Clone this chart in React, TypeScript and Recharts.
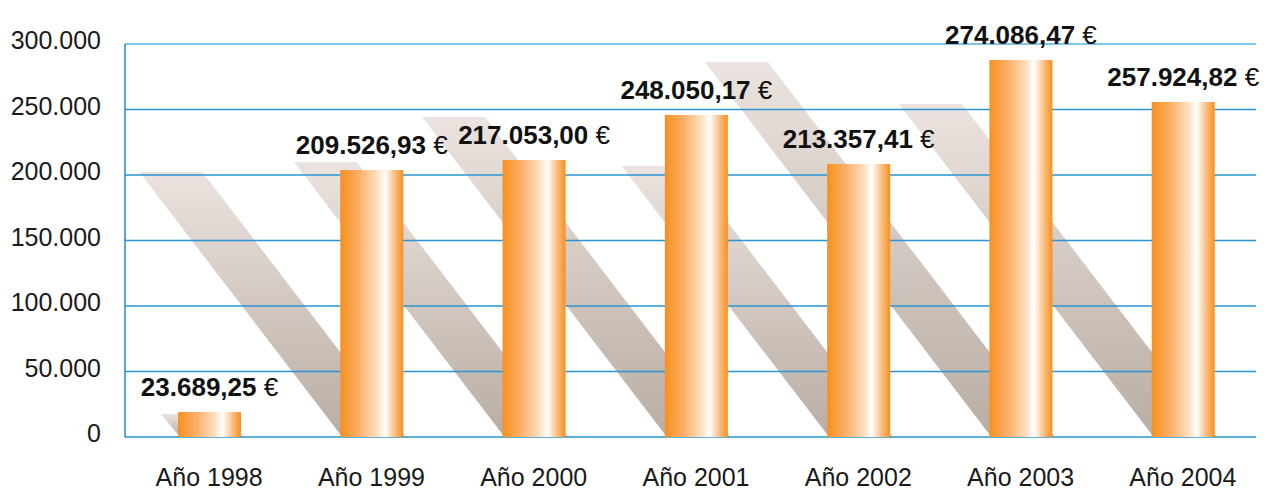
import { BarChart, Bar, XAxis, YAxis, ReferenceLine, LabelList } from "recharts";

const years = ["Año 1998", "Año 1999", "Año 2000", "Año 2001", "Año 2002", "Año 2003", "Año 2004"];
// bar heights as drawn in the picture
const amounts = [19100, 203800, 211500, 245800, 208400, 287800, 255700];
// printed labels
const amountLabels = [
  "23.689,25",
  "209.526,93",
  "217.053,00",
  "248.050,17",
  "213.357,41",
  "274.086,47",
  "257.924,82",
];
const yTicks = [0, 50000, 100000, 150000, 200000, 250000, 300000];

const data = years.map((year, i) => ({ year, amount: amounts[i], label: amountLabels[i] }));

const W = 1268;
const H = 490;
const FONT = '"Liberation Sans", Arial, sans-serif';
const plotMargin = { top: 44, right: 4, bottom: 53, left: 128 };

function ShadowShape({ x, y, width, height }: any) {
  const shift = height * 0.76;
  const top = y + 2;
  const pts = [
    [x + 2, y + height],
    [x + width + 2, y + height],
    [x + width + 2 - shift, top],
    [x + 2 - shift, top],
  ]
    .map((p) => p.join(","))
    .join(" ");
  return <polygon points={pts} fill="url(#shadowGrad)" />;
}

function YTick({ x, y, payload }: any) {
  const s = Number(payload.value).toLocaleString("de-DE");
  return (
    <text x={x} y={y - 3.5} dy="0.355em" textAnchor="end" fontSize={25} fill="#1a1a1a" fontFamily={FONT}>
      {s}
    </text>
  );
}

function XTick({ x, y, payload }: any) {
  return (
    <text x={x} y={y} dy="0.71em" textAnchor="middle" fontSize={25} fill="#1a1a1a" fontFamily={FONT}>
      {payload.value}
    </text>
  );
}

function ValueLabel({ x, y, width, value }: any) {
  return (
    <text x={x + width / 2} y={y - 16} textAnchor="middle" fontSize={26} fill="#111" fontFamily={FONT}>
      <tspan fontWeight="bold">{value}</tspan>
      <tspan> €</tspan>
    </text>
  );
}

export default function App() {
  return (
    <div style={{ position: "relative", width: W, height: H + 8, margin: -8, background: "#fff" }}>
      {/* shadows */}
      <div style={{ position: "absolute", left: 0, top: 0 }}>
        <BarChart width={W} height={H} data={data} margin={plotMargin}>
          <defs>
            <linearGradient id="shadowGrad" x1="0" y1="0" x2="0" y2="1">
              <stop offset="0%" stopColor="#ebe3df" />
              <stop offset="100%" stopColor="#b9ada3" />
            </linearGradient>
          </defs>
          <XAxis dataKey="year" hide />
          <YAxis hide domain={[0, 300000]} />
          <Bar dataKey="amount" barSize={63} shape={<ShadowShape />} isAnimationActive={false} />
        </BarChart>
      </div>
      {/* grid and value axis */}
      <div style={{ position: "absolute", left: 0, top: 0 }}>
        <BarChart width={W} height={H} data={data} margin={{ top: 44, right: 12, bottom: 53, left: 0 }}>
          <XAxis dataKey="year" hide />
          <YAxis
            width={125}
            domain={[0, 300000]}
            ticks={yTicks}
            interval={0}
            tickLine={false}
            tickMargin={18}
            axisLine={{ stroke: "#1a8ccc", strokeWidth: 1.5 }}
            tick={<YTick />}
          />
          <Bar dataKey="amount" fill="none" isAnimationActive={false} />
          {yTicks.map((t) => (
            <ReferenceLine
              key={t}
              y={t}
              stroke={t === 300000 ? "#80c6ea" : "#2a95d2"}
              strokeWidth={t === 300000 ? 2 : 1.5}
            />
          ))}
        </BarChart>
      </div>
      {/* bars */}
      <div style={{ position: "absolute", left: 0, top: 0 }}>
        <BarChart width={W} height={H} data={data} margin={{ ...plotMargin, bottom: 0 }}>
          <defs>
            <linearGradient id="barGrad" x1="0" y1="0" x2="1" y2="0">
              <stop offset="0%" stopColor="#f7901e" />
              <stop offset="30%" stopColor="#fab06a" />
              <stop offset="58%" stopColor="#fedfc0" />
              <stop offset="71%" stopColor="#ffffff" />
              <stop offset="86%" stopColor="#fbc085" />
              <stop offset="100%" stopColor="#f7901e" />
            </linearGradient>
          </defs>
          <XAxis
            dataKey="year"
            height={53}
            axisLine={false}
            tickLine={false}
            tickMargin={25}
            interval={0}
            tick={<XTick />}
          />
          <YAxis hide domain={[0, 300000]} />
          <Bar dataKey="amount" barSize={63} fill="url(#barGrad)" isAnimationActive={false}>
            <LabelList dataKey="label" content={<ValueLabel />} />
          </Bar>
        </BarChart>
      </div>
    </div>
  );
}
